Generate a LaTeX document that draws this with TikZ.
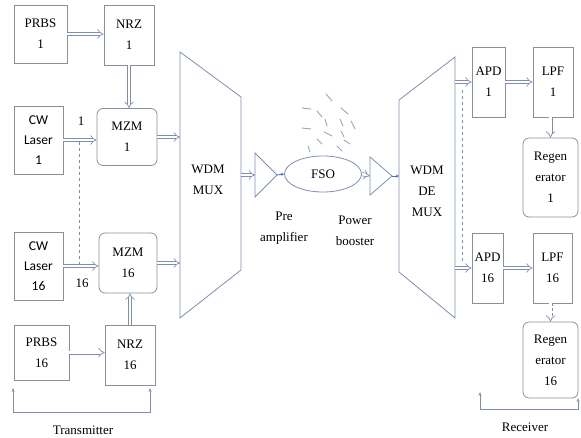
\documentclass[tikz,border=0pt]{standalone}
\usepackage{fontspec}
\setmainfont{Liberation Serif}
\newfontfamily\cwfont{Carlito}
\usepackage{xcolor}
\usetikzlibrary{arrows.meta,shapes.geometric}
\definecolor{boxc}{RGB}{140,142,152}
\definecolor{linec}{RGB}{125,142,178}
\definecolor{tipc}{RGB}{70,110,200}

\begin{document}
\begin{tikzpicture}[x=1pt,y=-1pt,
  blk/.style={draw=boxc,line width=0.8pt,align=center,inner sep=0pt,
    font=\fontsize{13}{21}\selectfont},
  rblk/.style={blk,rounded corners=6pt},
  cwblk/.style={blk,font=\cwfont\fontsize{13.5}{20}\selectfont},
  dar/.style={draw=linec,line width=0.7pt,double=white,double distance=2.6pt,-{Implies}},
  sar/.style={draw=linec,line width=0.7pt,-{Stealth[length=4pt,width=3pt]}},
  tar/.style={draw=tipc,line width=0.8pt,-{Stealth[length=3pt,width=3pt]}},
  dsh/.style={draw=linec,line width=1pt,dash pattern=on 3pt off 3pt},
  txt/.style={font=\fontsize{13}{21}\selectfont,align=center,inner sep=0pt}]
\useasboundingbox (0,0) rectangle (581,438);

% transmitter side
\node[blk,minimum width=53,minimum height=58] (prbsA) at (40.5,34) {PRBS\\1};
\node[blk,minimum width=50,minimum height=60] (nrzA) at (129,35) {NRZ\\1};
\node[cwblk,minimum width=49,minimum height=68] (cwA) at (38.5,140) {CW\\Laser\\1};
\node[rblk,minimum width=60,minimum height=57] (mzmA) at (127,137) {MZM\\1};
\node[cwblk,minimum width=49,minimum height=68] (cwB) at (38.5,266) {CW\\Laser\\16};
\node[rblk,minimum width=58,minimum height=60] (mzmB) at (128,263) {MZM\\16};
\node[blk,minimum width=55,minimum height=55] (prbsB) at (41.5,352.5) {PRBS\\16};
\node[blk,minimum width=50,minimum height=60] (nrzB) at (130,355) {NRZ\\16};
\node[txt] (lblA) at (81,121) {1};
\node[txt] (lblB) at (82,283) {16};

\draw[dar] (prbsA.east) -- (prbsA.east -| nrzA.west);
\draw[dar] (nrzA.south) -- (nrzA.south |- mzmA.north);
\draw[dar] (cwA.east) -- (cwA.east -| mzmA.west);
\draw[dar] (cwB.east) -- (cwB.east -| mzmB.west);
\draw[dar] (prbsB.east) -- (prbsB.east -| nrzB.west);
\draw[dar] (nrzB.north) -- (nrzB.north |- mzmB.south);
\coordinate (tapA) at (79,142);
\coordinate (tapB) at (79,265);
\draw[dsh] (tapA) -- (tapB);

% mux
\coordinate (muxL) at (180,180);
\coordinate (muxR) at (241,175);
\draw[draw=linec,line width=0.8pt] (180,52) -- (241,97) -- (241,270) -- (180,318) -- cycle;
\node[txt] (mux) at (208,180) {WDM\\MUX};
\draw[dar] (mzmA.east) -- (mzmA.east -| muxL);
\draw[dar] (mzmB.east) -- (mzmB.east -| muxL);

% channel
\coordinate (preIn) at (255,175);
\coordinate (preOut) at (277,175);
\draw[draw=linec,line width=0.8pt] (255,153) -- (preOut) -- (255,197) -- cycle;
\node[draw=linec,line width=0.8pt,ellipse,minimum width=77,minimum height=36,inner sep=0pt,
  font=\fontsize{13}{21}\selectfont] (fso) at (323,174) {FSO};
\coordinate (boostIn) at (370,176);
\coordinate (boostOut) at (392,176);
\draw[draw=linec,line width=0.8pt] (370,157) -- (boostOut) -- (370,195) -- cycle;
\coordinate (demuxL) at (399,176);
\draw[dar] (muxR) -- (preIn);
\draw[tar] (preOut) -- (fso.west);
\draw[dar] (fso.east) -- (boostIn);
\draw[tar] (boostOut) -- (demuxL);
\node[txt] (pre) at (284,228) {Pre\\amplifier};
\node[txt] (boost) at (355,231) {Power\\booster};

% turbulence
\foreach \a/\b/\c/\d in {326/94/332/101, 302/108/311/109, 341/108/348/114, 317/111/322/117,
  325/119/327/126, 340/119/343/126, 351/121/355/129, 302/128/311/129, 324/132/332/136,
  341/131/344/137, 317/139/322/144, 344/140/350/144, 308/146/310/152, 337/146/342/151}
  \draw[draw=linec!80,line width=0.9pt,line cap=round] (\a,\b) -- (\c,\d);

% demux
\coordinate (demuxR) at (455,83);
\draw[draw=linec,line width=0.8pt] (399,100) -- (455,57) -- (455,318) -- (399,272) -- cycle;
\node[txt] (demux) at (427,191) {WDM\\DE\\MUX};

% receiver side
\node[blk,minimum width=33,minimum height=70] (apdA) at (488.5,82) {APD\\1};
\node[blk,minimum width=40,minimum height=70] (lpfA) at (553,82) {LPF\\1};
\node[rblk,minimum width=55,minimum height=79] (regA) at (550.5,177.5) {Regen\\erator\\1};
\node[blk,minimum width=31,minimum height=70] (apdB) at (487.5,268) {APD\\16};
\node[blk,minimum width=39,minimum height=70] (lpfB) at (552.5,268) {LPF\\16};
\node[rblk,minimum width=55,minimum height=76] (regB) at (550.5,360) {Regen\\erator\\16};

\draw[dar] (apdA.west -| demuxR) -- (apdA.west);
\draw[dar] (apdB.west -| demuxR) -- (apdB.west);
\draw[dar] (apdA.east) -- (lpfA.west);
\draw[dar] (apdB.east) -- (lpfB.west);
\draw[dar] (regA.north |- lpfA.south) -- (regA.north);
\draw[dar,densely dashed] (regB.north |- lpfB.south) -- (regB.north);
\coordinate (tapC) at (462,90);
\coordinate (tapD) at (462,264);
\draw[dsh] (tapC) -- (tapD);

% brackets
\coordinate (txA) at (13,388);
\coordinate (txB) at (13,412);
\coordinate (txC) at (150,412);
\coordinate (txD) at (150,388);
\draw[sar] (txB) -- (txA);
\draw[sar] (txB) -- (txC) -- (txD);
\node[txt] (tx) at (83,430) {Transmitter};
\coordinate (rxA) at (480,392);
\coordinate (rxB) at (480,409);
\coordinate (rxC) at (578,409);
\coordinate (rxD) at (578,398);
\draw[sar] (rxB) -- (rxA);
\draw[sar] (rxB) -- (rxC) -- (rxD);
\node[txt] (rx) at (525,427) {Receiver};
\end{tikzpicture}
\end{document}
